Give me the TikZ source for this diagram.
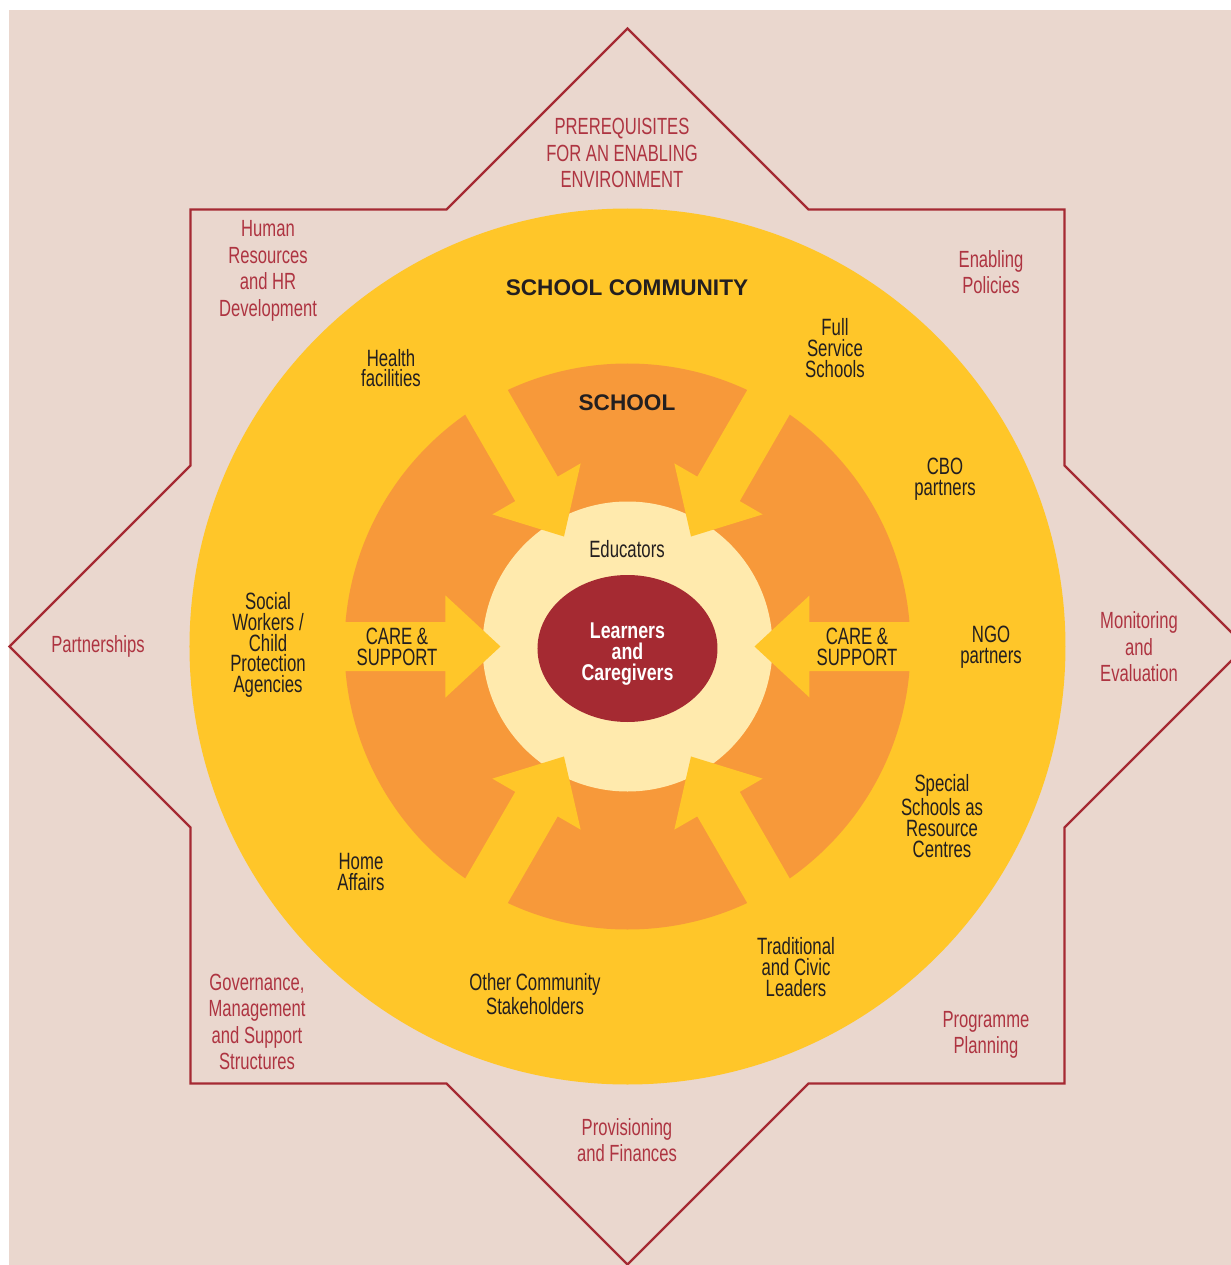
\documentclass[tikz,border=0pt]{standalone}
\usepackage{fontspec}
\setmainfont{Liberation Sans}
\newfontfamily\condfont[FakeStretch=0.71]{Liberation Sans}
\newfontfamily\condbold[FakeStretch=0.78]{Liberation Sans}

\definecolor{bgpink}{HTML}{EAD7CE}
\definecolor{starred}{HTML}{A52A33}
\definecolor{txtred}{HTML}{AE3441}
\definecolor{commyellow}{HTML}{FFC629}
\definecolor{schoolorange}{HTML}{F7993A}
\definecolor{educream}{HTML}{FFEAAD}
\definecolor{learnred}{HTML}{A52A32}
\definecolor{txtdark}{HTML}{231F20}

\begin{document}
\begin{tikzpicture}[
		x=0.5pt, y=0.5pt,
		outer/.style={inner sep=0pt, align=center, text=txtred, font=\condfont\fontsize{11.7}{13.25}\selectfont},
		inner/.style={inner sep=0pt, align=center, text=txtdark, font=\condfont\fontsize{11.8}{10.3}\selectfont},
		head/.style={inner sep=0pt, text=txtdark, font=\bfseries\fontsize{11.3}{13}\selectfont},
	]
	\useasboundingbox (-627.5,-618.5) rectangle (603.5,646.5);
	\clip (-627.5,-618.5) rectangle (603.5,646.5);
	\fill[bgpink] (-618.5,-618.5) rectangle (603.5,636.5);

	% enabling environment star
	\draw[starred, line width=1.1pt] (0,618) -- (181,437) -- (437,437) -- (437,181) -- (618,0) -- (437,-181)
		-- (437,-437) -- (181,-437) -- (0,-618) -- (-181,-437) -- (-437,-437) -- (-437,-181)
		-- (-618,0) -- (-437,181) -- (-437,437) -- (-181,437) -- cycle;

	% community, school and educators rings
	\fill[commyellow] (0,0) circle (438);
	\fill[schoolorange] (0,0) circle (283);
	\fill[educream] (0,0) circle (145);
	\foreach \a in {0,60,...,300}
		\fill[commyellow, rotate=\a] (127,0) -- (182,51) -- (182,24.5) -- (295,24.5)
			-- (295,-24.5) -- (182,-24.5) -- (182,-51) -- cycle;
	\fill[learnred] (0,-2) ellipse [x radius=90, y radius=73.5];

	\node (learners) [inner sep=0pt, align=center, text=white,
		font=\condbold\bfseries\fontsize{11.4}{10.5}\selectfont] at (0,-8) {Learners\\and\\Caregivers};

	\node[outer] (prereq) at (-5.5,493.5) {PREREQUISITES\\FOR AN ENABLING\\ENVIRONMENT};
	\node[outer] (hr) at (-359.5,375.5) {Human\\Resources\\and HR\\Development};
	\node[outer] (policies) at (363.5,374.5) {Enabling\\Policies};
	\node[outer] (partner) at (-529.5,0.5) {Partnerships};
	\node[outer] (monitor) at (511.5,-0.5) {Monitoring\\and\\Evaluation};
	\node[outer] (govern) at (-370.5,-375.5) {Governance,\\Management\\and Support\\Structures};
	\node[outer] (planning) at (358.5,-388.5) {Programme\\Planning};
	\node[outer] (finance) at (-0.5,-493.5) {Provisioning\\and Finances};

	\node[head] (community) at (-0.5,358.5) {SCHOOL COMMUNITY};
	\node[head] (school) at (-0.5,243.5) {SCHOOL};

	\node[inner] (health) at (-236.5,278.5) {Health\\facilities};
	\node[inner] (fullserv) at (207.5,298.5) {Full\\Service\\Schools};
	\node[inner] (cbo) at (317.5,167.5) {CBO\\partners};
	\node[inner] (social) at (-359.5,1.5) {Social\\Workers /\\Child\\Protection\\Agencies};
	\node[inner] (ngo) at (363.5,-0.5) {NGO\\partners};
	\node[inner] (special) at (314.5,-169.5) {Special\\Schools as\\Resource\\Centres};
	\node[inner] (home) at (-266.5,-225.5) {Home\\Affairs};
	\node[inner] (civic) at (168.5,-320.5) {Traditional\\and Civic\\Leaders};
	\node[inner] (stake) at (-92.5,-347.5) {Other Community\\Stakeholders};
	\node[inner] (careL) at (-230.5,-0.5) {CARE \&\\SUPPORT};
	\node[inner] (careR) at (229.5,-0.5) {CARE \&\\SUPPORT};
	\node[inner] (educ) at (-0.5,97.5) {Educators};
\end{tikzpicture}
\end{document}
